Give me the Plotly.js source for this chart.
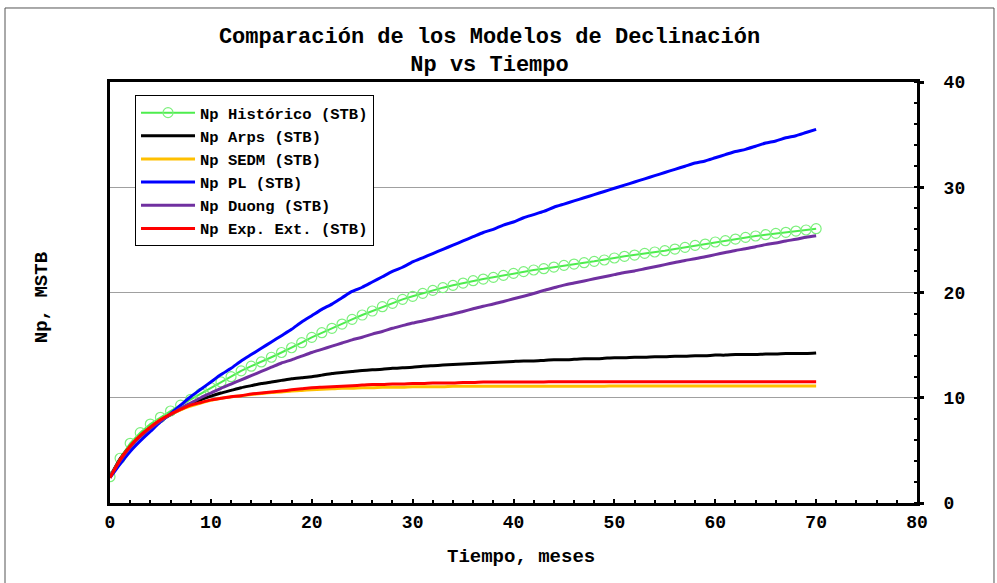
<!DOCTYPE html>
<html>
<head>
<meta charset="utf-8">
<script src="https://cdn.plot.ly/plotly-3.0.1.min.js"></script>
<style>
  html, body { margin: 0; padding: 0; background: #ffffff; }
  #chart { width: 997px; height: 583px; }
</style>
</head>
<body>
<div id="chart"></div>
<script>
// Tiempo (meses)
const meses = [];
for (let m = 0; m <= 70; m++) meses.push(m);

// Producción acumulada Np (MSTB)
const npHistorico = [
  2.5, 4.25, 5.67, 6.68, 7.5, 8.14, 8.74, 9.3, 9.85, 10.4,
  10.95, 11.5, 12.0, 12.55, 13.0, 13.4, 13.85, 14.3, 14.75, 15.23,
  15.74, 16.18, 16.6, 17.0, 17.45, 17.86, 18.24, 18.65, 18.97, 19.35,
  19.64, 19.92, 20.2, 20.46, 20.68, 20.9, 21.12, 21.28, 21.44, 21.63,
  21.82, 21.98, 22.14, 22.26, 22.42, 22.58, 22.7, 22.83, 22.96, 23.09,
  23.28, 23.44, 23.56, 23.72, 23.85, 23.97, 24.13, 24.29, 24.48, 24.6,
  24.8, 24.92, 25.08, 25.24, 25.37, 25.49, 25.62, 25.72, 25.84, 25.94,
  26.06
];
const npArps = [
  2.5, 4.2, 5.4, 6.4, 7.2, 7.85, 8.4, 8.9, 9.35, 9.8,
  10.15, 10.45, 10.7, 10.95, 11.15, 11.35, 11.5, 11.65, 11.8, 11.9,
  12.0, 12.15, 12.3, 12.4, 12.5, 12.6, 12.65, 12.7, 12.8, 12.85,
  12.9, 13.0, 13.05, 13.1, 13.15, 13.2, 13.25, 13.3, 13.35, 13.4,
  13.45, 13.5, 13.5, 13.55, 13.6, 13.6, 13.65, 13.7, 13.7, 13.75,
  13.8, 13.8, 13.85, 13.85, 13.9, 13.9, 13.95, 13.95, 14.0, 14.0,
  14.05, 14.05, 14.1, 14.1, 14.1, 14.15, 14.15, 14.2, 14.2, 14.2,
  14.25
];
const npSEDM = [
  2.4, 4.1, 5.4, 6.4, 7.2, 7.9, 8.4, 8.85, 9.2, 9.5,
  9.75, 9.95, 10.1, 10.2, 10.3, 10.4, 10.5, 10.55, 10.65, 10.7,
  10.75, 10.8, 10.85, 10.9, 10.9, 10.95, 10.95, 11.0, 11.0, 11.0,
  11.05, 11.05, 11.05, 11.05, 11.1, 11.1, 11.1, 11.1, 11.1, 11.1,
  11.1, 11.1, 11.1, 11.1, 11.1, 11.1, 11.1, 11.1, 11.1, 11.1,
  11.12, 11.12, 11.12, 11.12, 11.12, 11.12, 11.12, 11.12, 11.12, 11.12,
  11.12, 11.12, 11.12, 11.12, 11.12, 11.12, 11.12, 11.12, 11.12, 11.12,
  11.12
];
const npPL = [
  2.4, 3.7, 4.9, 5.9, 6.8, 7.7, 8.5, 9.3, 10.1, 10.8,
  11.5, 12.2, 12.8, 13.5, 14.1, 14.7, 15.3, 15.9, 16.5, 17.2,
  17.8, 18.4, 18.9, 19.5, 20.1, 20.5, 21.0, 21.5, 22.0, 22.4,
  22.9, 23.3, 23.7, 24.1, 24.5, 24.9, 25.3, 25.7, 26.0, 26.4,
  26.7, 27.1, 27.4, 27.7, 28.1, 28.4, 28.7, 29.0, 29.3, 29.6,
  29.9, 30.2, 30.5, 30.8, 31.1, 31.4, 31.7, 32.0, 32.3, 32.5,
  32.8, 33.1, 33.4, 33.6, 33.9, 34.2, 34.4, 34.7, 34.9, 35.2,
  35.5
];
const npDuong = [
  2.5, 4.0, 5.3, 6.3, 7.1, 7.8, 8.4, 9.0, 9.5, 10.0,
  10.45, 10.9, 11.3, 11.7, 12.1, 12.5, 12.9, 13.3, 13.6, 13.95,
  14.3, 14.6, 14.9, 15.2, 15.5, 15.75, 16.05, 16.3, 16.6, 16.85,
  17.1, 17.3, 17.5, 17.75, 17.95, 18.2, 18.45, 18.7, 18.9, 19.15,
  19.4, 19.65, 19.9, 20.2, 20.45, 20.7, 20.9, 21.1, 21.3, 21.5,
  21.7, 21.9, 22.05, 22.25, 22.45, 22.65, 22.85, 23.05, 23.2, 23.4,
  23.6, 23.8, 24.0, 24.15, 24.35, 24.55, 24.7, 24.9, 25.05, 25.25,
  25.4
];
const npExpExt = [
  2.4, 4.1, 5.4, 6.4, 7.2, 7.9, 8.45, 8.9, 9.3, 9.55,
  9.8, 9.95, 10.1, 10.2, 10.35, 10.45, 10.55, 10.65, 10.75, 10.85,
  10.95, 11.0, 11.05, 11.1, 11.15, 11.2, 11.25, 11.25, 11.3, 11.3,
  11.35, 11.35, 11.4, 11.4, 11.4, 11.45, 11.45, 11.5, 11.5, 11.5,
  11.5, 11.5, 11.5, 11.5, 11.52, 11.52, 11.52, 11.52, 11.52, 11.52,
  11.52, 11.52, 11.52, 11.52, 11.52, 11.52, 11.52, 11.52, 11.52, 11.52,
  11.52, 11.52, 11.52, 11.52, 11.52, 11.52, 11.52, 11.52, 11.52, 11.52,
  11.52
];

const nombres = [
  'Np Histórico (STB)', 'Np Arps (STB)', 'Np SEDM (STB)',
  'Np PL (STB)', 'Np Duong (STB)', 'Np Exp. Ext. (STB)'
];
const ejeXTicks = [0, 10, 20, 30, 40, 50, 60, 70, 80];
const ejeYTicks = [0, 10, 20, 30, 40];

const mono = '"Liberation Mono", "Courier New", "DejaVu Sans Mono", monospace';

function linea(y, name, color, width) {
  return {
    x: meses, y: y, name: name, type: 'scatter', mode: 'lines',
    line: { color: color, width: width, shape: 'spline', smoothing: 0.6 }
  };
}

const data = [
  {
    x: meses, y: npHistorico, name: nombres[0], type: 'scatter',
    mode: 'lines+markers',
    line: { color: '#4ded4d', width: 2 },
    marker: { symbol: 'circle-open', size: 10, color: '#7cf07c', line: { width: 1.2 } }
  },
  linea(npArps, nombres[1], '#000000', 3),
  linea(npSEDM, nombres[2], '#ffc000', 3),
  linea(npPL, nombres[3], '#0000ff', 3),
  linea(npDuong, nombres[4], '#7030a0', 3),
  linea(npExpExt, nombres[5], '#ff0000', 3)
];

const layout = {
  width: 997, height: 583,
  margin: { l: 110, r: 80, t: 82, b: 80 },
  paper_bgcolor: '#ffffff', plot_bgcolor: '#ffffff',
  font: { family: mono, size: 16, color: '#000000', weight: 'bold' },
  title: {
    text: 'Comparación de los Modelos de Declinación<br>Np vs Tiempo',
    font: { family: mono, size: 22, weight: 'bold', color: '#000000' },
    x: 0.491, xref: 'container', xanchor: 'center',
    y: 0.927, yref: 'container', yanchor: 'middle'
  },
  showlegend: true,
  legend: {
    x: 0.031, y: 0.969, xanchor: 'left', yanchor: 'top',
    bgcolor: '#ffffff', bordercolor: '#000000', borderwidth: 1,
    font: { family: mono, size: 15.5, weight: 'bold', color: '#000000' },
    itemwidth: 54, tracegroupgap: 0
  },
  xaxis: {
    range: [0, 80], tickvals: ejeXTicks, ticktext: ejeXTicks.map(String),
    showgrid: false, zeroline: false,
    showline: true, linecolor: '#000000', linewidth: 3, mirror: true,
    ticks: 'inside', ticklen: 4, tickwidth: 2, tickcolor: '#000000',
    minor: { dtick: 2, ticks: 'inside', ticklen: 3, tickwidth: 2, tickcolor: '#000000', showgrid: false },
    tickfont: { family: mono, size: 18, weight: 'bold' },
    fixedrange: true
  },
  yaxis: {
    range: [0, 40], side: 'right', tickvals: ejeYTicks, ticktext: ejeYTicks.map(String),
    showgrid: true, gridcolor: '#a0a0a0', gridwidth: 1.2, zeroline: false,
    showline: true, linecolor: '#000000', linewidth: 3, mirror: true,
    ticks: 'outside', ticklen: 4, tickwidth: 3, tickcolor: '#000000',
    minor: { dtick: 2, ticks: 'inside', ticklen: 3, tickwidth: 2, tickcolor: '#000000', showgrid: false },
    tickfont: { family: mono, size: 18, weight: 'bold' },
    ticklabelstandoff: 16,
    fixedrange: true
  },
  annotations: [
    {
      text: 'Tiempo, meses', xref: 'paper', yref: 'paper',
      x: 0.509, y: -0.128, xanchor: 'center', yanchor: 'middle', showarrow: false,
      font: { family: mono, size: 19, weight: 'bold' }
    },
    {
      text: 'Np, MSTB', xref: 'paper', yref: 'paper', textangle: -90,
      x: -0.084, y: 0.487, xanchor: 'center', yanchor: 'middle', showarrow: false,
      font: { family: mono, size: 19, weight: 'bold' }
    }
  ],
  shapes: [
    {
      type: 'rect', xref: 'paper', yref: 'paper', layer: 'below',
      x0: -0.1301, x1: 1.0954, y0: -0.2, y1: 1.1758,
      line: { color: '#555555', width: 1 }, fillcolor: 'rgba(0,0,0,0)'
    }
  ]
};

Plotly.newPlot('chart', data, layout, { displayModeBar: false, staticPlot: true });
</script>
</body>
</html>
